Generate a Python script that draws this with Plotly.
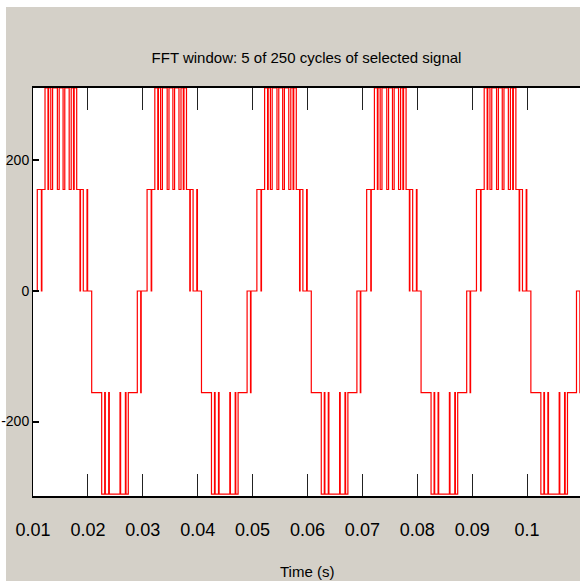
import plotly.graph_objects as go

# ---- data ----
TITLE = "FFT window: 5 of 250 cycles of selected signal"
X_LABEL = "Time (s)"
x_tick_vals = [0.01, 0.02, 0.03, 0.04, 0.05, 0.06, 0.07, 0.08, 0.09, 0.1]
x_tick_text = ["0.01", "0.02", "0.03", "0.04", "0.05", "0.06", "0.07", "0.08", "0.09", "0.1"]
y_tick_vals = [-200, 0, 200]
y_tick_text = ["-200", "0", "200"]

# five displayed cycles of the 50 Hz staircase output
cycle_start = [0.01, 0.03, 0.05, 0.07, 0.09]
window_end = 0.10964
start_level = 0.0

# switching instants inside one cycle (s after the cycle start) and the level after each switch (V)
edge_offset = [
    0.00078, 0.00153, 0.00162, 0.00219, 0.00273, 0.00284, 0.00324, 0.00357,
    0.00444, 0.00477, 0.00548, 0.00579, 0.00659, 0.00696, 0.00738, 0.00750,
    0.00796, 0.00856, 0.00865, 0.00916, 0.00984, 0.00995,
    0.01069, 0.01251, 0.01306, 0.01317, 0.01379, 0.01390, 0.01585, 0.01596,
    0.01683, 0.01694, 0.01736, 0.01900, 0.01962, 0.01971,
]
edge_level = [
    155.5, 0.0, 155.5, 311.0, 155.5, 311.0, 155.5, 311.0,
    155.5, 311.0, 155.5, 311.0, 155.5, 311.0, 155.5, 311.0,
    155.5, 0.0, 155.5, 0.0, 155.5, 0.0,
    -155.5, -311.0, -155.5, -311.0, -155.5, -311.0, -155.5, -311.0,
    -155.5, -311.0, -155.5, 0.0, -155.5, 0.0,
]

# ---- build the step signal from the switching table ----
t = [cycle_start[0]]
v = [start_level]
for c0 in cycle_start:
    for dt, lv in zip(edge_offset, edge_level):
        tt = c0 + dt
        if tt <= window_end:
            t.append(tt)
            v.append(lv)
t.append(window_end)
v.append(v[-1])

FONT = "Liberation Sans, Arial, sans-serif"

fig = go.Figure()
fig.add_trace(go.Scatter(
    x=t, y=v, mode="lines", line=dict(color="#ff0000", width=1.2, shape="hv"),
    hoverinfo="skip", showlegend=False,
))

L, R, T, B = 33, 0, 88, 85
W, H = 580, 581
pw, ph = W - L - R, H - T - B

fig.update_layout(
    width=W, height=H, autosize=False,
    margin=dict(l=L, r=R, t=T, b=B, pad=0),
    paper_bgcolor="#d4d0c8", plot_bgcolor="#ffffff",
    font=dict(family=FONT, color="#000000"),
    title=dict(text=TITLE, x=0.5, xref="paper", xanchor="center",
               y=1 - 57.5 / H, yref="container", yanchor="middle",
               font=dict(family=FONT, size=15, color="#000000")),
    xaxis=dict(range=[0.01, window_end], tickvals=x_tick_vals, ticktext=x_tick_text,
               ticks="inside", ticklen=22, tickwidth=1, tickcolor="#222222",
               showline=True, linewidth=2, linecolor="#000000", mirror="ticks",
               showgrid=False, zeroline=False, layer="below traces",
               tickfont=dict(family=FONT, size=18), ticklabelstandoff=16),
    yaxis=dict(range=[-314, 311], tickvals=y_tick_vals, ticktext=y_tick_text,
               ticks="inside", ticklen=6, tickwidth=2, tickcolor="#000000",
               showline=True, linewidth=1, linecolor="#000000", mirror=False,
               showgrid=False, zeroline=False,
               tickfont=dict(family=FONT, size=14)),
    yaxis2=dict(range=[-314, 311], tickvals=y_tick_vals, overlaying="y", side="right",
                anchor="x", ticks="inside", ticklen=6, tickwidth=2, tickcolor="#000000",
                showticklabels=False, showline=False, showgrid=False, zeroline=False),
    annotations=[dict(text=X_LABEL, x=0.5, xref="paper", xanchor="center",
                      y=-(561 - (T + ph)) / ph, yref="paper", yanchor="top",
                      showarrow=False, font=dict(family=FONT, size=15, color="#000000"))],
    shapes=[
        dict(type="rect", xref="paper", yref="paper", layer="below",
             x0=-L / pw, x1=1.0, y0=(ph + T - 7) / ph, y1=(ph + T) / ph,
             fillcolor="#ffffff", line=dict(width=0)),
        dict(type="rect", xref="paper", yref="paper", layer="below",
             x0=-L / pw, x1=(6 - L) / pw, y0=-B / ph, y1=(ph + T) / ph,
             fillcolor="#ffffff", line=dict(width=0)),
    ],
)

fig.write_html("out.html")
